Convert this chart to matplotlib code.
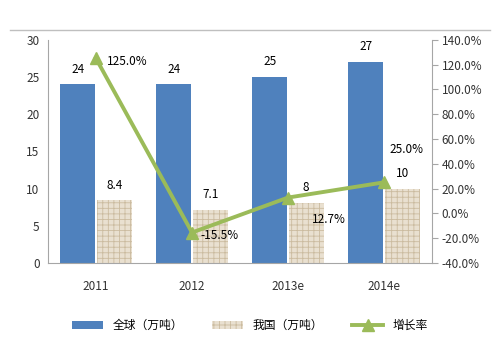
import matplotlib.pyplot as plt
import numpy as np

plt.rcParams['font.family'] = ['Noto Sans CJK SC', 'DejaVu Sans']
plt.rcParams['hatch.linewidth'] = 0.6

# data
years = ["2011", "2012", "2013e", "2014e"]
world = [24, 24, 25, 27]
china = [8.4, 7.1, 8, 10]
growth = [125.0, -15.5, 12.7, 25.0]

fig = plt.figure(figsize=(5, 3.5), dpi=100)
ax = fig.add_axes([0.096, 0.249, 0.768, 0.637])
ax2 = ax.twinx()

x = np.arange(len(years))
w = 0.36
gap = 0.02
b1 = ax.bar(x - w / 2 - gap / 2, world, w, color='#4f81bd', label='全球（万吨）', zorder=2)
b2 = ax.bar(x + w / 2 + gap / 2, china, w, color='#e9e0d0', edgecolor='#cbbb9f',
            hatch='+++', linewidth=0, label='我国（万吨）', zorder=2)

for xi, v in zip(x - w / 2 - gap / 2, world):
    ax.text(xi, v + 1.2, f"{v:g}", ha='center', va='bottom', fontsize=8.5)
for xi, v in zip(x + w / 2 + gap / 2, china):
    ax.text(xi, v + 1.2, f"{v:g}", ha='center', va='bottom', fontsize=8.5)

ln, = ax2.plot(x, growth, color='#9bbb59', lw=2.8, marker='^', markersize=8,
               label='增长率', zorder=3)
offsets = [(8, -2, 'left', 'center'), (6, -2, 'left', 'center'),
           (17, -16, 'left', 'center'), (4, 24, 'left', 'center')]
for xi, v, (dx, dy, ha, va) in zip(x, growth, offsets):
    ax2.annotate(f"{v:.1f}%", (xi, v), xytext=(dx, dy), textcoords='offset points',
                 ha=ha, va=va, fontsize=8.5)

ax.set_xlim(-0.5, 3.5)
ax.set_ylim(0, 30)
ax.set_yticks(range(0, 31, 5))
ax2.set_ylim(-40, 140)
ax2.set_yticks(range(-40, 141, 20))
ax2.set_yticklabels([f"{t:.1f}%" for t in range(-40, 141, 20)])
ax.set_xticks(x)
ax.set_xticklabels(years)

for a in (ax, ax2):
    a.spines['top'].set_visible(False)
    for s in ('left', 'right', 'bottom'):
        a.spines[s].set_color('#a6a6a6')
    a.tick_params(labelsize=8.5, colors='#333333')
ax.spines['right'].set_visible(False)
ax2.spines['left'].set_visible(False)
ax2.spines['bottom'].set_visible(False)
ax.tick_params(axis='y', length=0, pad=6)
ax.tick_params(axis='x', length=0, pad=12)
ax2.tick_params(axis='y', length=4, color='#a6a6a6', pad=3)

fig.legend([b1, b2, ln], ['全球（万吨）', '我国（万吨）', '增长率'], loc='center',
           bbox_to_anchor=(0.5, 0.07), ncol=3, frameon=False, fontsize=8.5,
           handlelength=2.6, columnspacing=2.5)

# frame line at the top
fig.add_artist(plt.Line2D([0.02, 0.98], [0.915, 0.915], color='#bfbfbf', lw=1))

fig.savefig('out.png', dpi=100)
